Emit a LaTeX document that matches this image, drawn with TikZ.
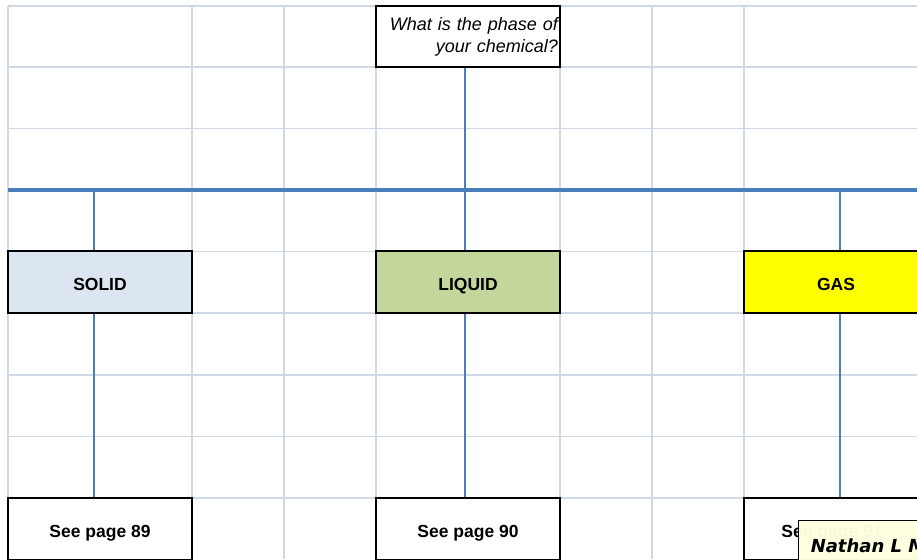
\documentclass[tikz,border=0pt]{standalone}
\usepackage{fontspec}
\setmainfont{Liberation Sans}
\newfontfamily\cmtfont{DejaVu Sans}
\usepackage{xcolor}
\usetikzlibrary{positioning}
\definecolor{gridc}{RGB}{208,215,229}
\definecolor{busc}{RGB}{74,126,187}
\definecolor{solidc}{RGB}{220,230,241}
\definecolor{liquidc}{RGB}{195,214,155}
\definecolor{gasc}{RGB}{255,255,0}
\definecolor{notec}{RGB}{255,255,225}

\begin{document}
\begin{tikzpicture}[x=1pt,y=-1pt,
 b/.style={draw=black,line width=2pt,minimum width=184pt,minimum height=61.5pt,
 inner sep=0pt,text height=16pt,text depth=0pt,font=\fontsize{17.5}{21}\selectfont\bfseries},
 a/.style={busc,line width=2pt},
 g/.style={gridc,line width=1.4pt}]
\useasboundingbox (0,0) rectangle (917,559);
\clip (0,0) rectangle (917,559);
% sheet grid
\foreach \x in {8,192,284,376,560,652,744} \draw[g] (\x,6) -- (\x,559);
\foreach \y in {6,67,128.5,190,251.5,313,375,436.5,498} \draw[g] (8,\y) -- (917,\y);
% question and phases
\node[b,fill=white,font=\fontsize{18}{22}\selectfont\itshape,align=right,
 text height=,text depth=,text width=180pt,minimum width=0pt,inner xsep=2pt] (q) at (468,36.5)
 {What is the phase of\\your chemical?};
\node[b,fill=solidc] (s) at (100,282) {SOLID};
\node[b,fill=liquidc] (l) at (468,282) {LIQUID};
\node[b,fill=gasc] (gas) at (836,282) {GAS};
\node[b,fill=white,minimum height=62pt] (p89) at (100,529) {See page 89};
\node[b,fill=white,minimum height=62pt] (p90) at (468,529) {See page 90};
\node[b,fill=white,minimum height=62pt,inner xsep=0pt,xshift=0pt] (p91) at (836,529) {\hspace*{-8pt}See page 91};
\coordinate (busl) at (8,190); \coordinate (busr) at (917,190);
\draw[a] ([xshift=-3]q.south) -- ([xshift=-3]q.south |- busl);
\draw[busc,line width=4pt] (busl) -- (busr);
\draw[a] ([xshift=-6]s.north |- busl) -- ([xshift=-6]s.north);
\draw[a] ([xshift=-3]l.north |- busl) -- ([xshift=-3]l.north);
\draw[a] ([xshift=4]gas.north |- busl) -- ([xshift=4]gas.north);
\draw[a] ([xshift=-6]s.south) -- ([xshift=-6]p89.north);
\draw[a] ([xshift=-3]l.south) -- ([xshift=-3]p90.north);
\draw[a] ([xshift=4]gas.south) -- ([xshift=4]gas.south |- p91.north);
% comment note on top
\node[draw=black,line width=1pt,fill=notec,fill opacity=0.97,text opacity=1,
 anchor=north west,inner xsep=10pt,inner ysep=18pt,minimum width=140pt,align=left,
 font=\cmtfont\fontsize{18}{22}\selectfont\bfseries\itshape] (note) at (798,520)
 {Nathan L M};
\end{tikzpicture}
\end{document}
